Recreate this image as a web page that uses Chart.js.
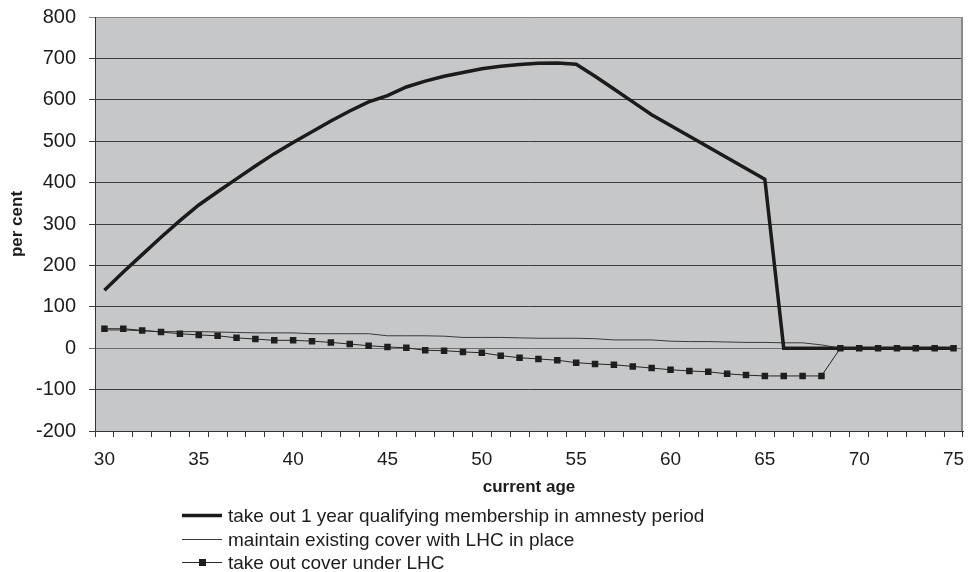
<!DOCTYPE html>
<html>
<head>
<meta charset="utf-8">
<script src="https://cdn.jsdelivr.net/npm/chart.js@4.4.1/dist/chart.umd.min.js"></script>
<style>
  body { margin: 0; background: #fff; }
  canvas { display: block; }
</style>
</head>
<body>
<canvas id="grafico" width="968" height="572"></canvas>
<script>
// edades en el eje x
const ages = [30, 31, 32, 33, 34, 35, 36, 37, 38, 39, 40, 41, 42, 43, 44, 45,
  46, 47, 48, 49, 50, 51, 52, 53, 54, 55, 56, 57, 58, 59, 60, 61, 62, 63, 64,
  65, 66, 67, 68, 69, 70, 71, 72, 73, 74, 75];

// series (en %)
const amnestyPeriod = [140, 184, 226, 268, 308, 346, 378, 409, 440, 470, 497,
  523, 549, 573, 595, 610, 631, 645, 657, 666, 675, 681, 685, 688, 689, 686,
  657, 626, 595, 564, 538, 512, 486, 460, 434, 408,
  0, 0, 0, 0, 0, 0, 0, 0, 0, 0];
const existingCover = [44, 44, 42, 40, 40, 40, 39, 38, 37, 37, 37, 35, 35, 35,
  35, 30, 30, 30, 29, 26, 26, 26, 25, 24, 24, 24, 23, 20, 20, 20, 17, 16, 16,
  15, 14, 14, 13, 13, 8, 0, 0, 0, 0, 0, 0, 0];
const coverUnderLHC = [47, 47, 43, 39, 35, 32, 30, 25, 22, 19, 19, 17, 14, 10,
  6, 3, 1, -5, -6, -9, -11, -18, -23, -26, -29, -35, -38, -40, -44, -48, -52,
  -55, -57, -62, -65, -67, -67, -67, -67, 0, 0, 0, 0, 0, 0, 0];

const seriesNames = [
  'take out 1 year qualifying membership in amnesty period',
  'maintain existing cover with LHC in place',
  'take out cover under LHC'
];

const fuente = '"Liberation Sans", Arial, Helvetica, sans-serif';
const textColor = '#1c1c1c';

// fondo gris del area de trazado y borde derecho
const plotBackground = {
  id: 'plotBackground',
  beforeDraw(chart) {
    const { ctx, chartArea: a } = chart;
    ctx.save();
    ctx.fillStyle = '#c6c7c9';
    ctx.fillRect(a.left, a.top, a.right - a.left, a.bottom - a.top);
    ctx.restore();
  },
  beforeDatasetsDraw(chart) {
    const { ctx, chartArea: a } = chart;
    ctx.save();
    ctx.strokeStyle = '#8a8a8a';
    ctx.lineWidth = 2;
    ctx.beginPath();
    ctx.moveTo(Math.round(a.right) - 1, a.top);
    ctx.lineTo(Math.round(a.right) - 1, a.bottom);
    ctx.stroke();
    ctx.restore();
  }
};

// leyenda en tres filas, alineada a la izquierda
const legendRows = {
  id: 'legendRows',
  afterDraw(chart) {
    const ctx = chart.ctx;
    ctx.save();
    ctx.font = '19px ' + fuente;
    ctx.textBaseline = 'middle';
    chart.data.datasets.forEach((ds, i) => {
      const y = Math.round(515 + i * 23.5) + 0.5;
      ctx.strokeStyle = ds.borderColor;
      ctx.lineWidth = ds.borderWidth;
      ctx.beginPath();
      ctx.moveTo(182, y);
      ctx.lineTo(222, y);
      ctx.stroke();
      if (ds.pointRadius > 0) {
        ctx.fillStyle = ds.pointBackgroundColor;
        ctx.fillRect(199, y - 3.5, 7, 7);
      }
      ctx.fillStyle = textColor;
      ctx.fillText(ds.label, 228, y + 1);
    });
    ctx.restore();
  }
};

const chart = new Chart(document.getElementById('grafico'), {
  type: 'line',
  data: {
    labels: ages,
    datasets: [{
      label: seriesNames[0],
      data: amnestyPeriod,
      borderColor: '#1b1b1b',
      borderWidth: 3.5,
      pointRadius: 0,
      tension: 0,
      order: 1
    }, {
      label: seriesNames[1],
      data: existingCover,
      borderColor: '#3a3a3a',
      borderWidth: 1,
      pointRadius: 0,
      tension: 0,
      order: 2
    }, {
      label: seriesNames[2],
      data: coverUnderLHC,
      borderColor: '#262626',
      borderWidth: 1,
      pointStyle: 'rect',
      pointRadius: 4.6,
      pointBackgroundColor: '#1e1e1e',
      pointBorderWidth: 0,
      tension: 0,
      order: 0
    }]
  },
  options: {
    responsive: false,
    animation: false,
    events: [],
    layout: { padding: { top: 17, right: 5, left: 0, bottom: 0 } },
    plugins: {
      legend: { display: false },
      tooltip: { enabled: false }
    },
    scales: {
      x: {
        type: 'category',
        offset: true,
        grid: {
          offset: true,
          drawOnChartArea: false,
          drawTicks: true,
          tickLength: 6,
          color: '#333'
        },
        border: { display: true, color: '#333', width: 1 },
        ticks: {
          autoSkip: false,
          maxRotation: 0,
          padding: 11,
          color: textColor,
          font: { family: fuente, size: 19 },
          callback(value, index) {
            const a = ages[index];
            return a % 5 === 0 ? String(a) : '';
          }
        },
        title: {
          display: true,
          text: 'current age',
          color: textColor,
          font: { family: fuente, size: 17, weight: 'bold' },
          padding: { top: 0, bottom: 74 }
        },
        afterFit(scale) {
          scale.height = 141;
          scale.paddingLeft = 0;
          scale.paddingRight = 0;
        }
      },
      y: {
        min: -200,
        max: 800,
        ticks: {
          stepSize: 100,
          padding: 13,
          color: textColor,
          font: { family: fuente, size: 20 }
        },
        grid: {
          color: (c) => c.tick && c.tick.value === 800 ? '#858585'
            : (c.tick && c.tick.value === 0 ? '#6f6f6f' : '#3c3c3c'),
          drawTicks: true,
          tickLength: 6
        },
        border: { display: true, color: '#333', width: 1 },
        title: {
          display: true,
          text: 'per cent',
          color: textColor,
          font: { family: fuente, size: 17, weight: 'bold' },
          padding: { top: 7, bottom: 0 }
        },
        afterFit(scale) {
          scale.width = 95;
          scale.paddingTop = 0;
          scale.paddingBottom = 0;
        }
      }
    }
  },
  plugins: [plotBackground, legendRows]
});
</script>
</body>
</html>
